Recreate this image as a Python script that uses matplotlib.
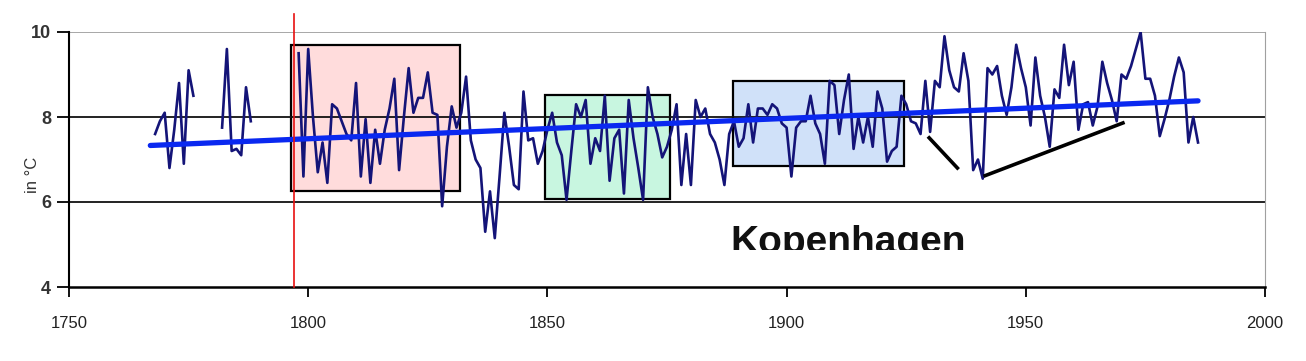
import numpy as np
import matplotlib
matplotlib.use('Agg')
import matplotlib.pyplot as plt
from matplotlib.patches import Rectangle

plt.rcParams['font.family'] = ['Liberation Sans', 'DejaVu Sans']

# annual mean temperature, Copenhagen, three record segments
years_a = list(range(1768, 1777))
temps_a = [7.6, 7.9, 8.1, 6.8, 7.7, 8.8, 6.9, 9.1, 8.5]

years_b = list(range(1782, 1789))
temps_b = [7.75, 9.6, 7.2, 7.25, 7.1, 8.7, 7.9]

years_c = list(range(1798, 1987))
temps_c = [
    9.5, 6.6, 9.6, 8.0, 6.7, 7.4, 6.45, 8.3, 8.2, 7.9,          # 1798-1807
    7.6, 7.45, 8.8, 6.6, 7.95, 6.45, 7.7, 6.9, 7.7, 8.2,        # 1808-1817
    8.9, 6.75, 8.0, 9.15, 8.1, 8.45, 8.45, 9.05, 8.1, 8.05,     # 1818-1827
    5.9, 7.3, 8.25, 7.75, 8.1, 8.95, 7.45, 7.0, 6.8, 5.3,       # 1828-1837
    6.25, 5.15, 6.6, 8.1, 7.3, 6.4, 6.3, 8.6, 7.45, 7.5,        # 1838-1847
    6.9, 7.2, 7.7, 8.1, 7.4, 7.1, 6.05, 7.2, 8.3, 8.0,          # 1848-1857
    8.4, 6.9, 7.5, 7.2, 8.5, 6.5, 7.5, 7.7, 6.2, 8.4,           # 1858-1867
    7.5, 6.8, 6.05, 8.7, 8.0, 7.6, 7.05, 7.3, 7.7, 8.3,         # 1868-1877
    6.4, 7.6, 6.4, 8.4, 8.0, 8.2, 7.6, 7.4, 7.0, 6.4,           # 1878-1887
    7.6, 7.9, 7.3, 7.5, 8.3, 7.4, 8.2, 8.2, 8.05, 8.3,          # 1888-1897
    8.2, 7.85, 7.75, 6.6, 7.75, 7.9, 7.9, 8.5, 7.85, 7.6,       # 1898-1907
    6.9, 8.85, 8.75, 7.6, 8.4, 9.0, 7.25, 8.0, 7.4, 8.0,        # 1908-1917
    7.3, 8.6, 8.2, 6.95, 7.2, 7.3, 8.5, 8.3, 7.9, 7.85,         # 1918-1927
    7.6, 8.85, 7.65, 8.85, 8.7, 9.9, 9.1, 8.7, 8.6, 9.5,        # 1928-1937
    8.85, 6.75, 7.0, 6.55, 9.15, 9.0, 9.2, 8.5, 8.05, 8.7,      # 1938-1947
    9.7, 9.15, 8.7, 7.8, 9.4, 8.5, 8.0, 7.3, 8.65, 8.45,        # 1948-1957
    9.7, 8.75, 9.3, 7.7, 8.3, 8.35, 7.8, 8.25, 9.3, 8.8,        # 1958-1967
    8.4, 7.9, 9.0, 8.9, 9.2, 9.6, 10.0, 8.9, 8.9, 8.5,          # 1968-1977
    7.55, 7.95, 8.4, 8.95, 9.4, 9.05, 7.4, 8.0, 7.4,            # 1978-1986
]

# linear trend as drawn on the chart
trend_years = [1767, 1986]
trend_temps = [7.33, 8.38]

# highlighted periods: (start, end, low, high, colour)
boxes = [
    (1796.4, 1831.7, 6.26, 9.69, '#FFDCDC'),
    (1849.5, 1875.6, 6.07, 8.52, '#C8F6E0'),
    (1888.8, 1924.5, 6.85, 8.85, '#D0E1F9'),
]

# hand drawn black strokes near the 1940 dip
strokes = [
    ([1929.8, 1935.7], [7.51, 6.80]),
    ([1941.5, 1970.3], [6.62, 7.86]),
]

red_year = 1797

fig = plt.figure(figsize=(13.06, 3.61), dpi=100)
ax = fig.add_axes([69 / 1306, 1 - 287 / 361, 1196 / 1306, 255 / 361])

ax.set_xlim(1750, 2000)
ax.set_ylim(4, 10)
ax.set_xticks([1750, 1800, 1850, 1900, 1950, 2000])
ax.set_yticks([4, 6, 8, 10])

for v, c in [(6, '#111111'), (8, '#111111'), (10, '#a0a0a0')]:
    ax.axhline(v, color=c, lw=1.3, zorder=2)

for x0, x1, lo, hi, col in boxes:
    ax.add_patch(Rectangle((x0, lo), x1 - x0, hi - lo, facecolor=col,
                           edgecolor='black', lw=1.6, zorder=1))

for yrs, vals in [(years_a, temps_a), (years_b, temps_b), (years_c, temps_c)]:
    ax.plot(yrs, vals, color='#141478', lw=1.9, solid_joinstyle='round',
            zorder=3)

ax.plot(trend_years, trend_temps, color='#0a28f0', lw=3.8,
        solid_capstyle='round', zorder=4)

for xs, ys in strokes:
    ax.plot(xs, ys, color='black', lw=2.6, zorder=4)

ax.plot([red_year, red_year], [4, 10.42], color='#e81010', lw=1.2,
        clip_on=False, zorder=5)

ax.text(1888.2, 4.8, 'Kopenhagen', fontsize=28, fontweight='bold',
        ha='left', va='baseline', color='#111111', zorder=6)
# lower part of the label is cut off in the original
ax.add_patch(Rectangle((1885, 4.05), 60, 0.82, facecolor='white',
                       edgecolor='none', zorder=7))

ax.spines['top'].set_visible(False)
ax.spines['right'].set_color('#a0a0a0')
ax.spines['left'].set_linewidth(1.5)
ax.spines['bottom'].set_linewidth(1.8)

ax.tick_params(axis='y', length=9, width=1.3, direction='out', pad=4,
               labelsize=13, labelcolor='#333333')
ax.tick_params(axis='x', length=7, width=1.3, direction='out', pad=14,
               labelsize=12, labelcolor='#222222')
for lab in ax.get_yticklabels():
    lab.set_fontweight('bold')

ax.set_ylabel('in °C', fontsize=12, color='#333333')
ax.yaxis.set_label_coords(-0.024, 0.44)

fig.savefig('out.png', dpi=100)
